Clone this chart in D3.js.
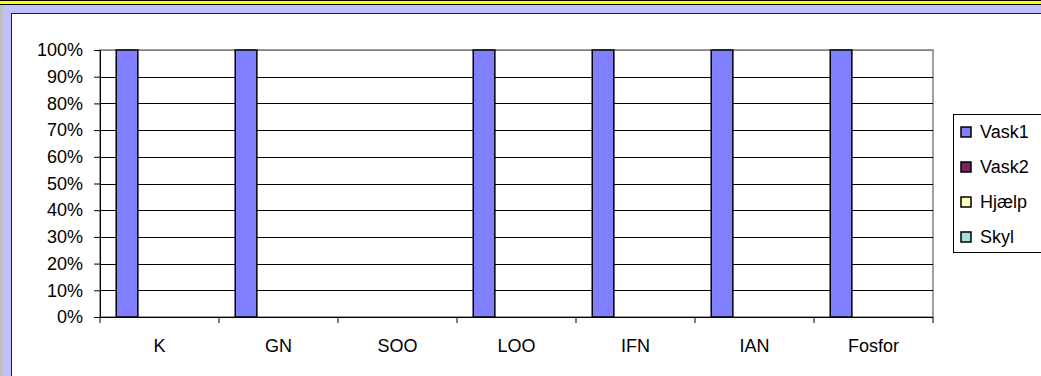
<!DOCTYPE html>
<html>
<head>
<meta charset="utf-8">
<script src="https://cdn.jsdelivr.net/npm/d3@7"></script>
<style>
  html, body { margin: 0; padding: 0; background: #fff; }
  svg { display: block; font-family: "Liberation Sans", Arial, sans-serif; }
</style>
</head>
<body>
<svg width="1041" height="376"></svg>
<script>
// data
var categories = ["K", "GN", "SOO", "LOO", "IFN", "IAN", "Fosfor"];
var seriesNames = ["Vask1", "Vask2", "Hjælp", "Skyl"];
var vask1 = [1, 1, 0, 1, 1, 1, 1];
var vask2 = [0, 0, 0, 0, 0, 0, 0];
var hjaelp = [0, 0, 0, 0, 0, 0, 0];
var skyl = [0, 0, 0, 0, 0, 0, 0];
var yTicks = [0, 0.1, 0.2, 0.3, 0.4, 0.5, 0.6, 0.7, 0.8, 0.9, 1];

var seriesValues = [vask1, vask2, hjaelp, skyl];
var colors = ["#8080ff", "#802060", "#ffffc0", "#a0e0e0"];

var svg = d3.select("svg"),
    width = 1041,
    height = 376;

// window-like frame
svg.append("rect").attr("x", 0).attr("y", 0).attr("width", width).attr("height", height).attr("fill", "#fff");
svg.append("rect").attr("x", 0).attr("y", 0).attr("width", width).attr("height", 14).attr("fill", "#c0c0ff");
svg.append("rect").attr("x", 0).attr("y", 0).attr("width", 11).attr("height", height).attr("fill", "#c0c0ff");
svg.append("rect").attr("x", 0).attr("y", 0).attr("width", 3).attr("height", height).attr("fill", "#c0c0c0");
svg.append("rect").attr("x", 0).attr("y", 0).attr("width", width).attr("height", 5).attr("fill", "#000");
svg.append("rect").attr("x", 0).attr("y", 1).attr("width", width).attr("height", 3).attr("fill", "#ffff00");
svg.append("rect").attr("x", 11).attr("y", 13).attr("width", width).attr("height", 1).attr("fill", "#222");
svg.append("rect").attr("x", 11).attr("y", 13).attr("width", 1).attr("height", height).attr("fill", "#222");

var plotLeft = 100, plotRight = 933, plotTop = 50, plotBottom = 317;

var x = d3.scaleBand()
    .domain(categories)
    .range([plotLeft, plotRight])
    .paddingInner(0)
    .paddingOuter(0);

var x1 = d3.scaleBand()
    .domain(seriesNames)
    .range([0, x.bandwidth()])
    .paddingInner(0)
    .paddingOuter(0.75);

var y = d3.scaleLinear()
    .domain([0, 1])
    .range([plotBottom, plotTop]);

// plot area
svg.append("rect")
    .attr("x", plotLeft).attr("y", plotTop)
    .attr("width", plotRight - plotLeft).attr("height", plotBottom - plotTop)
    .attr("fill", "#fff")
    .attr("stroke", "#808080")
    .attr("stroke-width", 1.5);

// gridlines
svg.append("g")
    .attr("class", "grid")
    .selectAll("line")
    .data(yTicks.slice(1))
    .enter().append("line")
    .attr("x1", plotLeft).attr("x2", plotRight)
    .attr("y1", function(d) { return Math.round(y(d)) + 0.5; })
    .attr("y2", function(d) { return Math.round(y(d)) + 0.5; })
    .attr("stroke", function(d) { return d === 1 ? "#808080" : "#000"; })
    .attr("stroke-width", 1);

// bars
var groups = svg.append("g")
    .selectAll("g")
    .data(categories)
    .enter().append("g")
    .attr("transform", function(d) { return "translate(" + x(d) + ",0)"; });

groups.selectAll("rect")
    .data(function(d, i) {
        return seriesNames.map(function(s, j) { return { name: s, value: seriesValues[j][i], color: colors[j] }; });
    })
    .enter().filter(function(d) { return d.value > 0; })
    .append("rect")
    .attr("x", function(d) { return x1(d.name); })
    .attr("y", function(d) { return y(d.value); })
    .attr("width", x1.bandwidth())
    .attr("height", function(d) { return plotBottom - y(d.value); })
    .attr("fill", function(d) { return d.color; })
    .attr("stroke", "#000")
    .attr("stroke-width", 1.5);

// y axis
var yAxis = svg.append("g")
    .attr("transform", "translate(" + plotLeft + ",0)")
    .call(d3.axisLeft(y).tickValues(yTicks).tickFormat(d3.format(".0%")).tickSize(6).tickPadding(11));
yAxis.select(".domain").attr("stroke", "#000");
yAxis.selectAll("text").attr("font-size", 18).attr("fill", "#000").attr("font-family", "Liberation Sans, Arial, sans-serif");

// x axis
var xAxis = svg.append("g")
    .attr("transform", "translate(0," + plotBottom + ")")
    .call(d3.axisBottom(x).tickSize(0).tickPadding(22));
xAxis.select(".domain").attr("stroke", "#000").attr("d", "M" + (plotLeft - 6) + ",0.5H" + plotRight);
xAxis.selectAll("text").attr("font-size", 18).attr("fill", "#000").attr("font-family", "Liberation Sans, Arial, sans-serif");

xAxis.selectAll(".boundary")
    .data(categories.concat(["end"]))
    .enter().append("line")
    .attr("class", "boundary")
    .attr("x1", function(d) { return d === "end" ? plotRight : x(d); })
    .attr("x2", function(d) { return d === "end" ? plotRight : x(d); })
    .attr("y1", 0).attr("y2", 6)
    .attr("stroke", "#000");

// legend
var legend = svg.append("g");
legend.append("rect")
    .attr("x", 953.5).attr("y", 114.5)
    .attr("width", 100).attr("height", 138)
    .attr("fill", "#fff")
    .attr("stroke", "#000");

var item = legend.selectAll(".item")
    .data(seriesNames)
    .enter().append("g")
    .attr("class", "item")
    .attr("transform", function(d, i) { return "translate(0," + (132 + i * 35) + ")"; });

item.append("rect")
    .attr("x", 961).attr("y", -5)
    .attr("width", 10).attr("height", 10)
    .attr("fill", function(d, i) { return colors[i]; })
    .attr("stroke", "#000")
    .attr("stroke-width", 1.5);

item.append("text")
    .attr("x", 980)
    .attr("dy", "0.35em")
    .attr("font-size", 18)
    .text(function(d) { return d; });
</script>
</body>
</html>
